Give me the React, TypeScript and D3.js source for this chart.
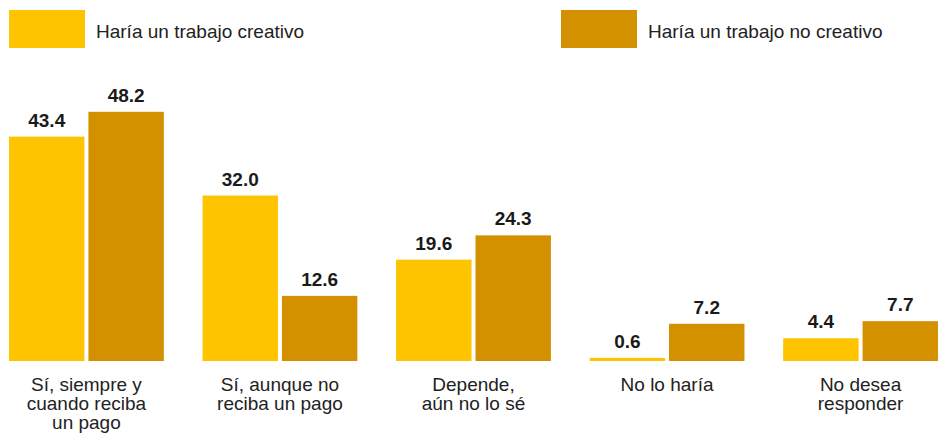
import React from "react";
import * as d3 from "d3";

const categories: string[][] = [
  ["Sí, siempre y", "cuando reciba", "un pago"],
  ["Sí, aunque no", "reciba un pago"],
  ["Depende,", "aún no lo sé"],
  ["No lo haría"],
  ["No desea", "responder"],
];
const seriesNames = ["Haría un trabajo creativo", "Haría un trabajo no creativo"];
const creativo = [43.4, 32.0, 19.6, 0.6, 4.4];
const noCreativo = [48.2, 12.6, 24.3, 7.2, 7.7];
const colors = ["#FFC400", "#D39100"];

const W = 938;
const H = 434;
const FONT = "'Liberation Sans', Arial, Helvetica, sans-serif";

export default function App() {
  const idx = categories.map((_, i) => i);
  const x0 = d3.scaleBand<number>().domain(idx).range([9, 938]).paddingInner(0.2).paddingOuter(0);
  const x1 = d3.scaleBand<number>().domain([0, 1]).range([0, x0.bandwidth()]).paddingInner(0.05).paddingOuter(0);
  const y = d3.scaleLinear().domain([0, 50]).range([361, 102.5]);
  const series = [creativo, noCreativo];

  return (
    <svg width={W} height={H} style={{ position: "absolute", left: 0, top: 0, background: "#fff" }} fontFamily={FONT}>
      {/* legend */}
      <g>
        <rect x={9} y={10} width={76} height={38} fill={colors[0]} />
        <text x={96} y={38} fontSize={19} fill="#222">{seriesNames[0]}</text>
        <rect x={561} y={10} width={76} height={38} fill={colors[1]} />
        <text x={648} y={38} fontSize={19} fill="#222">{seriesNames[1]}</text>
      </g>
      {idx.map((i) => (
        <g key={i} transform={`translate(${x0(i)},0)`}>
          {series.map((s, k) => (
            <g key={k}>
              <rect x={x1(k)} y={y(s[i])} width={x1.bandwidth()} height={y(0) - y(s[i])} fill={colors[k]} />
              <text
                x={(x1(k) as number) + x1.bandwidth() / 2}
                y={y(s[i]) - 10}
                textAnchor="middle"
                fontSize={19}
                fontWeight="bold"
                fill="#1a1a1a"
              >
                {s[i].toFixed(1)}
              </text>
            </g>
          ))}
          <text x={x0.bandwidth() / 2} y={391} textAnchor="middle" fontSize={19} fill="#222">
            {categories[i].map((line, j) => (
              <tspan key={j} x={x0.bandwidth() / 2} dy={j === 0 ? 0 : 19}>
                {line}
              </tspan>
            ))}
          </text>
        </g>
      ))}
    </svg>
  );
}
